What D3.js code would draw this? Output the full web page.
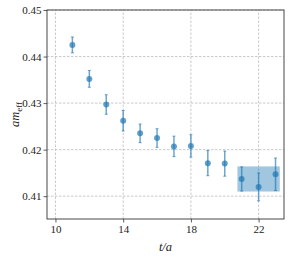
<!DOCTYPE html>
<html><head><meta charset="utf-8">
<script src="https://cdn.jsdelivr.net/npm/d3@7"></script>
<style>body{margin:0;background:#fff}svg{display:block}</style>
</head><body><div id="chart"></div>
<script>
const tValues = [11,12,13,14,15,16,17,18,19,20,21,22,23];
const meffValues = [0.4425,0.4352,0.4297,0.4262,0.4235,0.4225,0.4207,0.4208,0.4171,0.4170,0.4137,0.4120,0.4147];
const meffErrors = [0.0017,0.0018,0.0021,0.0022,0.0020,0.0020,0.0022,0.0024,0.0027,0.0027,0.0026,0.0030,0.0035];
const fitRange = [20.75, 23.25];
const fitValue = [0.4137];
const fitError = [0.0027];
const xTicks = [10,14,18,22];
const yTicks = [0.41,0.42,0.43,0.44,0.45];

const W = 291, H = 259;
const m = {left:47, right:7, top:10, bottom:40};
const svg = d3.select("#chart").append("svg").attr("width",W).attr("height",H);
const x = d3.scaleLinear().domain([9.5,23.5]).range([m.left, W-m.right]);
const y = d3.scaleLinear().domain([0.4051,0.45]).range([H-m.bottom, m.top]);
const font = "'Liberation Serif', serif";
const C0 = "#1f77b4";

// grid
const g = svg.append("g");
g.selectAll(".gx").data(xTicks).enter().append("line")
  .attr("x1",d=>x(d)).attr("x2",d=>x(d)).attr("y1",y.range()[0]).attr("y2",y.range()[1])
  .attr("stroke","#bdbdbd").attr("stroke-width",0.8).attr("stroke-dasharray","2.5,1.5");
g.selectAll(".gy").data(yTicks).enter().append("line")
  .attr("y1",d=>y(d)).attr("y2",d=>y(d)).attr("x1",x.range()[0]).attr("x2",x.range()[1])
  .attr("stroke","#bdbdbd").attr("stroke-width",0.8).attr("stroke-dasharray","2.5,1.5");

// fit band
svg.append("rect")
  .attr("x",x(fitRange[0])).attr("width",x(fitRange[1])-x(fitRange[0]))
  .attr("y",y(fitValue[0]+fitError[0])).attr("height",y(fitValue[0]-fitError[0])-y(fitValue[0]+fitError[0]))
  .attr("fill",C0).attr("fill-opacity",0.42);

// error bars
const pts = tValues.map((t,i)=>({t, v:meffValues[i], e:meffErrors[i]}));
const eg = svg.append("g").attr("stroke",C0).attr("stroke-opacity",0.65).attr("stroke-width",1.5);
eg.selectAll(".eb").data(pts).enter().append("line")
  .attr("x1",d=>x(d.t)).attr("x2",d=>x(d.t)).attr("y1",d=>y(d.v-d.e)).attr("y2",d=>y(d.v+d.e));
eg.selectAll(".c1").data(pts).enter().append("line")
  .attr("x1",d=>x(d.t)-1.5).attr("x2",d=>x(d.t)+1.5).attr("y1",d=>y(d.v-d.e)).attr("y2",d=>y(d.v-d.e)).attr("stroke-width",1);
eg.selectAll(".c2").data(pts).enter().append("line")
  .attr("x1",d=>x(d.t)-1.5).attr("x2",d=>x(d.t)+1.5).attr("y1",d=>y(d.v+d.e)).attr("y2",d=>y(d.v+d.e)).attr("stroke-width",1);
svg.append("g").selectAll("circle").data(pts).enter().append("circle")
  .attr("cx",d=>x(d.t)).attr("cy",d=>y(d.v)).attr("r",3)
  .attr("fill",C0).attr("fill-opacity",0.7);

// axes
const xa = svg.append("g").attr("transform",`translate(0,${H-m.bottom})`)
  .call(d3.axisBottom(x).tickValues(xTicks).tickSize(3.5).tickPadding(3).tickFormat(d3.format("d")));
const ya = svg.append("g").attr("transform",`translate(${m.left},0)`)
  .call(d3.axisLeft(y).tickValues(yTicks).tickSize(3.5).tickPadding(2).tickFormat(d3.format(".2f")));
[xa,ya].forEach(a=>{
  a.select(".domain").remove();
  a.selectAll("line").attr("stroke","#333").attr("stroke-width",0.8);
  a.selectAll("text").attr("font-family",font).attr("font-size",11).attr("fill","#222");
});
// frame
svg.append("rect").attr("x",m.left).attr("y",m.top).attr("width",W-m.left-m.right).attr("height",H-m.top-m.bottom)
  .attr("fill","none").attr("stroke","#333").attr("stroke-width",0.9);

// labels
svg.append("text").attr("x",(m.left+W-m.right)/2).attr("y",251).attr("text-anchor","middle")
  .attr("font-family",font).attr("font-size",12.5).attr("font-style","italic").attr("fill","#222").text("t/a");
const yl = svg.append("text").attr("transform",`translate(19,${(m.top+H-m.bottom)/2}) rotate(-90)`)
  .attr("text-anchor","middle").attr("font-family",font).attr("font-size",12.5).attr("fill","#222");
yl.append("tspan").attr("font-style","italic").text("am");
yl.append("tspan").attr("font-size",9).attr("dy",3).text("eff");
</script></body></html>
